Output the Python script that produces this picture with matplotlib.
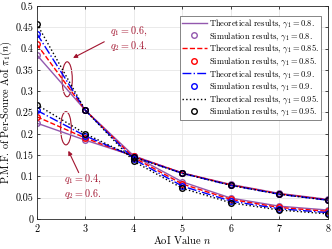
import numpy as np
import matplotlib
matplotlib.use("Agg")
import matplotlib.pyplot as plt
from matplotlib.patches import Ellipse

plt.rcParams['font.family'] = 'serif'
plt.rcParams['font.serif'] = ['cmr10']
plt.rcParams['mathtext.fontset'] = 'cm'
plt.rcParams['axes.formatter.use_mathtext'] = True
plt.rcParams['font.size'] = 7

# AoI values
n = [2, 3, 4, 5, 6, 7, 8]
gammas = ['0.8', '0.85', '0.9', '0.95']

# q1 = 0.6, q2 = 0.4
pmf_a_080 = [0.385, 0.255, 0.148, 0.087, 0.049, 0.030, 0.021]
pmf_a_085 = [0.410, 0.255, 0.144, 0.082, 0.046, 0.027, 0.018]
pmf_a_090 = [0.435, 0.255, 0.140, 0.077, 0.042, 0.024, 0.015]
pmf_a_095 = [0.458, 0.255, 0.135, 0.072, 0.038, 0.021, 0.012]

# q1 = 0.4, q2 = 0.6
pmf_b_080 = [0.225, 0.185, 0.148, 0.108, 0.081, 0.060, 0.046]
pmf_b_085 = [0.240, 0.190, 0.147, 0.108, 0.080, 0.059, 0.045]
pmf_b_090 = [0.255, 0.195, 0.146, 0.107, 0.079, 0.058, 0.044]
pmf_b_095 = [0.268, 0.200, 0.145, 0.107, 0.079, 0.058, 0.044]

group_a = [pmf_a_080, pmf_a_085, pmf_a_090, pmf_a_095]
group_b = [pmf_b_080, pmf_b_085, pmf_b_090, pmf_b_095]

colors = ['#9358AE', 'red', 'blue', 'black']
styles = ['-', '--', '-.', ':']
ann_col = '#A2142F'

fig = plt.figure(figsize=(3.32, 2.49), dpi=100)
ax = fig.add_axes([0.111, 0.1205, 0.877, 0.8555])

for i in range(4):
    for grp, first in ((group_a, True), (group_b, False)):
        ax.plot(n, grp[i], linestyle=styles[i], color=colors[i], lw=1,
                label=r'Theoretical results, $\gamma_1 = %s$.' % gammas[i] if first else None)
        ax.plot(n, grp[i], 'o', color=colors[i], mfc='none', ms=4, mew=1,
                label=r'Simulation results, $\gamma_1 = %s$.' % gammas[i] if first else None)

ax.set_xlim(2, 8)
ax.set_ylim(0, 0.5)
ax.set_xticks(n)
ax.set_yticks(np.arange(0, 0.51, 0.05))
ax.set_yticklabels(['0', '0.05', '0.1', '0.15', '0.2', '0.25', '0.3', '0.35', '0.4', '0.45', '0.5'])
ax.grid(True, color='#e6e6e6', lw=0.6)
ax.tick_params(direction='in', top=True, right=True, length=2.5, width=0.5, labelsize=7.3, pad=2.5)
for s in ax.spines.values():
    s.set_linewidth(0.6)
    s.set_color('#262626')
ax.set_xlabel(r'AoI Value $n$', fontsize=7.6, labelpad=0)
ax.set_ylabel(r'P.M.F. of Per-Source AoI $\pi_1(n)$', fontsize=7.4, labelpad=1)

leg = ax.legend(loc='upper right', bbox_to_anchor=(0.99, 0.975), fontsize=6.1,
                handlelength=2.9, handletextpad=0.3, labelspacing=0.0,
                borderpad=0.2, fancybox=False, edgecolor='#555555', framealpha=1)
leg.get_frame().set_linewidth(0.5)

ax.add_patch(Ellipse((2.625, 0.328), 0.21, 0.082, fill=False, ec=ann_col, lw=0.8))
ax.add_patch(Ellipse((2.6, 0.213), 0.22, 0.078, fill=False, ec=ann_col, lw=0.8))
ax.annotate('', xy=(2.695, 0.375), xytext=(3.44, 0.419),
            arrowprops=dict(arrowstyle='-|>', color=ann_col, lw=0.8, mutation_scale=6))
ax.annotate('', xy=(2.625, 0.166), xytext=(2.887, 0.103),
            arrowprops=dict(arrowstyle='-|>', color=ann_col, lw=0.8, mutation_scale=6))
ax.text(3.5, 0.423, '$q_1 = 0.6,$\n$q_2 = 0.4.$', color=ann_col, fontsize=7.3,
        va='center', ha='left', linespacing=1.1)
ax.text(2.56, 0.075, '$q_1 = 0.4,$\n$q_2 = 0.6.$', color=ann_col, fontsize=7.3,
        va='center', ha='left', linespacing=1.1)

fig.savefig('out.png', dpi=100)
